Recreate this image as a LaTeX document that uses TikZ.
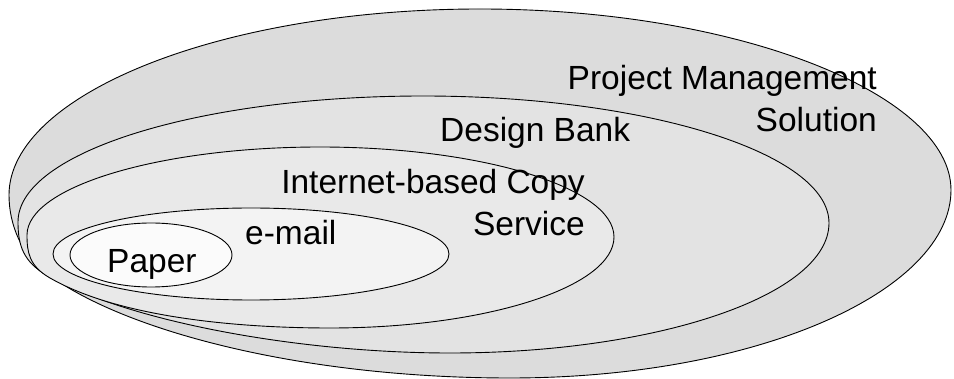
\documentclass[tikz,border=0pt]{standalone}
\usepackage{fontspec}
\setmainfont{Liberation Sans}
\definecolor{ringA}{HTML}{DCDCDC}
\definecolor{ringB}{HTML}{E3E3E3}
\definecolor{ringC}{HTML}{E9E9E9}
\definecolor{ringD}{HTML}{F3F3F3}
\definecolor{ringE}{HTML}{FBFBFB}
\begin{document}
\begin{tikzpicture}[x=1pt,y=-1pt,
  ring/.style={draw=black, line width=0.9pt},
  lbl/.style={inner sep=0pt, font=\fontsize{33.5}{42}\selectfont, align=right}]
\useasboundingbox (0,0) rectangle (954,379);

% Project Management Solution (outermost)
\path[ring, fill=ringA] (9,195) .. controls (9,95) and (220,9) .. (480,9)
  .. controls (740,9) and (951,95) .. (951,190)
  .. controls (951,290) and (760,378) .. (510,378)
  .. controls (300,378) and (120,330) .. (45,272)
  .. controls (22,255) and (9,225) .. cycle;

% Design Bank
\path[ring, fill=ringB] (18,222) .. controls (18,152) and (200,96) .. (423,96)
  .. controls (646,96) and (829,153) .. (829,223)
  .. controls (829,295) and (658,353) .. (450,353)
  .. controls (300,353) and (130,322) .. (48,276)
  .. controls (23,262) and (18,245) .. cycle;

% Internet-based Copy Service
\path[ring, fill=ringC] (27,235) .. controls (27,187) and (159,147) .. (320,147)
  .. controls (480,147) and (614,187) .. (614,237)
  .. controls (614,287) and (486,328) .. (330,328)
  .. controls (240,328) and (120,318) .. (50,278)
  .. controls (29,266) and (27,252) .. cycle;

% e-mail
\path[ring, fill=ringD] (251,254) ellipse [x radius=198, y radius=46];

% Paper
\path[ring, fill=ringE] (151,255) ellipse [x radius=81, y radius=32];

% Labels (base anchor of a two-line label sits on its last line)
\node[lbl, anchor=base east] (pms) at (877,132) {Project Management\\Solution};
\node[lbl, anchor=base west] (bank) at (440,142) {Design Bank};
\node[lbl, anchor=base east] (copy) at (585,236) {Internet-based Copy\\Service};
\node[lbl, anchor=base west] (mail) at (245,245) {e-mail};
\node[lbl, anchor=base west] (paper) at (107,273) {Paper};
\end{tikzpicture}
\end{document}
